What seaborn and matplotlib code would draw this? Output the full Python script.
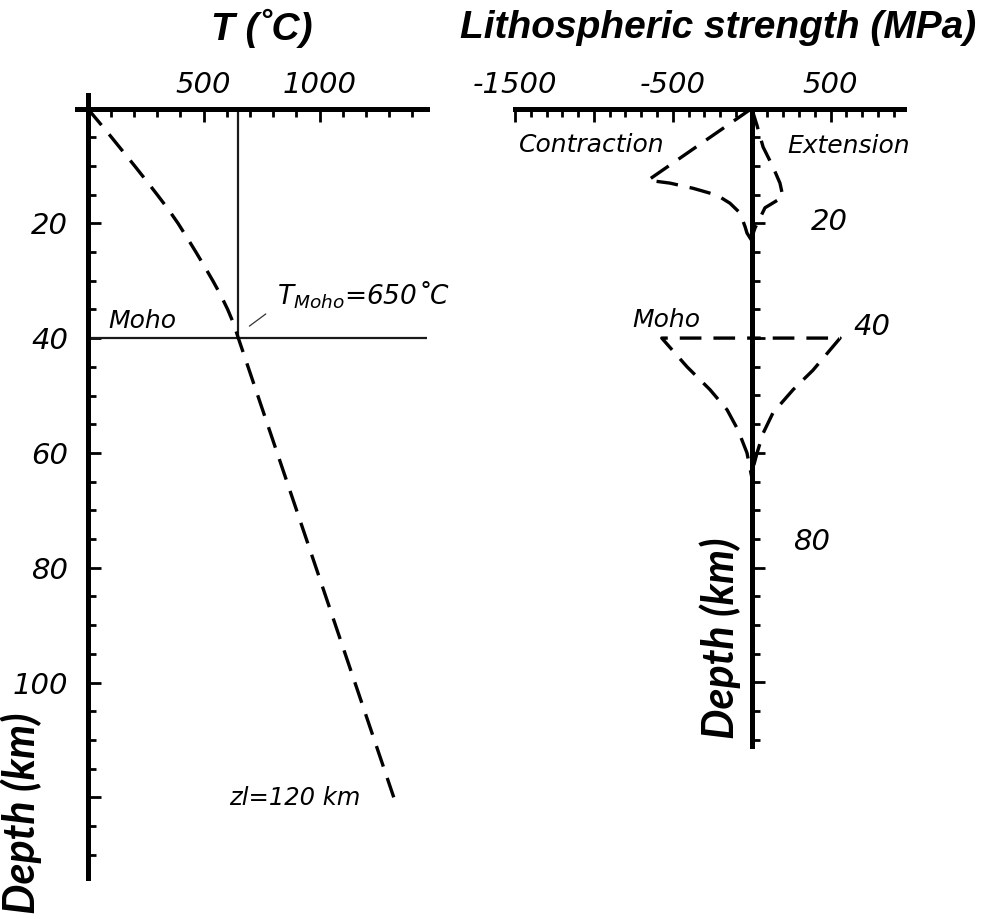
import matplotlib
matplotlib.use("Agg")
import matplotlib.pyplot as plt
import seaborn as sns
import numpy as np
from matplotlib.ticker import MultipleLocator, FixedLocator, FixedFormatter

# ---------------- data ----------------
# geotherm (left panel)
geo_depth = [0, 2.5, 5, 7.5, 10, 12.5, 15, 17.5, 20, 22.5, 25, 27.5, 30,
             32.5, 35, 37.5, 40, 120]
geo_temp = [0, 52, 103, 153, 203, 252, 300, 347, 390, 429, 467, 504, 540,
            574, 604, 630, 650, 1320]
moho_depth = 40
t_moho = 650

# strength envelopes (right panel)
contr_strength = [0, -657, -518, -372, -220, -138, -74, -42, -30, 0, 0,
                  -570, -410, -264, -156, -87, -30, 0, 0]
contr_depth = [0, 12.5, 13.0, 13.9, 15.1, 16.5, 18.2, 20.6, 21.7, 23, 40,
               40, 45.0, 49.0, 52.5, 56.0, 60.0, 64.2, 70]
ext_strength = [0, 33, 72, 135, 179, 198, 84, 40, 21, 0, 0,
                560, 388, 262, 135, 72, 34, 0]
ext_depth = [0, 2.9, 6.7, 10.2, 13.0, 15.4, 17.3, 19.8, 20.8, 22.5, 40,
             40, 45.6, 49.0, 53.0, 56.6, 60.0, 63.5]

t_ticks = [0, 500, 1000]
t_ticklabels = ["", "500", "1000"]
depth_ticks = [0, 20, 40, 60, 80, 100, 120]
depth_ticklabels = ["", "20", "40", "60", "80", "100", ""]
s_ticks = [-1500, -1000, -500, 0, 500]
s_ticklabels = ["-1500", "", "-500", "", "500"]
right_depth_labels = ["20", "40", "80"]

# ---------------- style ----------------
sns.set_style("white")
plt.rcParams["font.family"] = ["DejaVu Sans"]
plt.rcParams["mathtext.fontset"] = "dejavusans"
for k in ["text.color", "axes.labelcolor", "xtick.color", "ytick.color"]:
    plt.rcParams[k] = "black"

W, H = 992, 919
fig = plt.figure(figsize=(W / 100, H / 100), dpi=100)

SPINE_LW = 3.6
TICK_W = 2.0
DASH = (0, (6.5, 3.6))
CURVE_LW = 2.4


def style_axis(ax):
    for s in ["right", "bottom"]:
        ax.spines[s].set_visible(False)
    for s in ["left", "top"]:
        ax.spines[s].set_linewidth(SPINE_LW)
        ax.spines[s].set_color("black")
        ax.spines[s].set_zorder(5)
    ax.xaxis.set_ticks_position("top")
    ax.yaxis.set_ticks_position("left")
    ax.tick_params(axis="x", which="both", top=True, bottom=False)
    ax.tick_params(axis="y", which="both", left=True, right=False)
    ax.tick_params(axis="both", which="major", direction="in", length=9.5,
                   width=TICK_W, color="black", labelcolor="black")
    ax.tick_params(axis="both", which="minor", direction="in", length=5.5,
                   width=TICK_W, color="black")
    ax.tick_params(axis="x", which="major", pad=7)
    ax.set_xlabel("")
    ax.set_ylabel("")
    ax.patch.set_alpha(0)


# ---------------- left panel ----------------
axL = fig.add_axes([77.1 / W, 1 - 877.7 / H, 350.3 / W, 782.4 / H])

sns.lineplot(x=[0, 1465], y=[moho_depth, moho_depth], ax=axL, color="#1a1a1a",
             lw=1.6, sort=False, estimator=None)
sns.lineplot(x=[t_moho, t_moho], y=[0, moho_depth], ax=axL, color="#1a1a1a",
             lw=1.6, sort=False, estimator=None, orient="y")
sns.lineplot(x=geo_temp, y=geo_depth, ax=axL, color="black", lw=CURVE_LW,
             linestyle=DASH, sort=False, estimator=None)
axL.set_xlim(-45, 1465)
axL.set_ylim(134, -2.3)
axL.spines["left"].set_position(("data", 0))
axL.spines["top"].set_position(("data", 0))
style_axis(axL)

axL.xaxis.set_major_locator(FixedLocator(t_ticks))
axL.xaxis.set_major_formatter(FixedFormatter(t_ticklabels))
axL.xaxis.set_minor_locator(MultipleLocator(100))
axL.yaxis.set_major_locator(FixedLocator(depth_ticks))
axL.yaxis.set_major_formatter(FixedFormatter(depth_ticklabels))
axL.yaxis.set_minor_locator(MultipleLocator(5))
axL.tick_params(axis="y", which="major", pad=14)
for lab in axL.get_xticklabels() + axL.get_yticklabels():
    lab.set_fontfamily("DejaVu Sans")
    lab.set_fontstyle("oblique")
    lab.set_fontsize(21)

axL.text(88, 38.2, "Moho", fontsize=18, style="oblique", ha="left", va="baseline")
axL.text(817, 34.2, r"$T_{Moho}$=650˚C", fontsize=19, style="oblique",
         ha="left", va="baseline")
axL.annotate("", xy=(688, 38.2), xytext=(778, 35.5),
             arrowprops=dict(arrowstyle="-", lw=0.9, color="#333333"))
axL.text(892, 121.3, "zl=120 km", fontsize=17.5, style="oblique",
         ha="center", va="baseline")

# ---------------- right panel ----------------
axR = fig.add_axes([515.0 / W, 1 - 745.6 / H, 389.0 / W, 637.1 / H])
sns.lineplot(x=contr_strength, y=contr_depth, ax=axR, color="black", lw=CURVE_LW,
             linestyle=DASH, sort=False, estimator=None)
sns.lineplot(x=ext_strength, y=ext_depth, ax=axR, color="black", lw=CURVE_LW,
             linestyle=DASH, sort=False, estimator=None)
axR.set_xlim(-1500, 965)
axR.set_ylim(111, 0)
axR.spines["left"].set_position(("data", 0))
style_axis(axR)

axR.xaxis.set_major_locator(FixedLocator(s_ticks))
axR.xaxis.set_major_formatter(FixedFormatter(s_ticklabels))
axR.xaxis.set_minor_locator(FixedLocator(list(range(-1500, 1000, 100))))
axR.yaxis.set_major_locator(FixedLocator([20, 40, 60, 80, 100]))
axR.yaxis.set_minor_locator(MultipleLocator(5))
axR.yaxis.set_major_formatter(FixedFormatter(["", "", "", "", ""]))
for lab in axR.get_xticklabels():
    lab.set_fontfamily("DejaVu Sans")
    lab.set_fontstyle("oblique")
    lab.set_fontsize(21)

axR.text(-1012, 7.6, "Contraction", fontsize=18, style="oblique", ha="center", va="baseline")
axR.text(616, 7.7, "Extension", fontsize=18, style="oblique", ha="center", va="baseline")
axR.text(-540, 38.0, "Moho", fontsize=18, style="oblique", ha="center", va="baseline")
for lab, sx, dy in zip(right_depth_labels, [490, 762, 376], [21.2, 39.5, 76.9]):
    axR.text(sx, dy, lab, fontsize=21, style="oblique", ha="center", va="baseline")

# ---------------- titles / axis labels ----------------
title_font = dict(family=["Liberation Sans", "DejaVu Sans"], weight="bold",
                  style="italic", size=28, color="black")
fig.text(262 / W, 1 - 28 / H, "T (˚C)", ha="center", va="center", **title_font)
fig.text(718.5 / W, 1 - 28 / H, "Lithospheric strength (MPa)", ha="center",
         va="center", **title_font)

depth_font = dict(family=["Lato", "DejaVu Sans"], weight="bold", style="italic",
                  size=31, color="black")
fig.text(21.5 / W, 1 - 813 / H, "Depth (km)", rotation=90, ha="center", va="center", **depth_font)
fig.text(720 / W, 1 - 638 / H, "Depth (km)", rotation=90, ha="center", va="center", **depth_font)

fig.savefig("out.png", dpi=100, facecolor="white")
